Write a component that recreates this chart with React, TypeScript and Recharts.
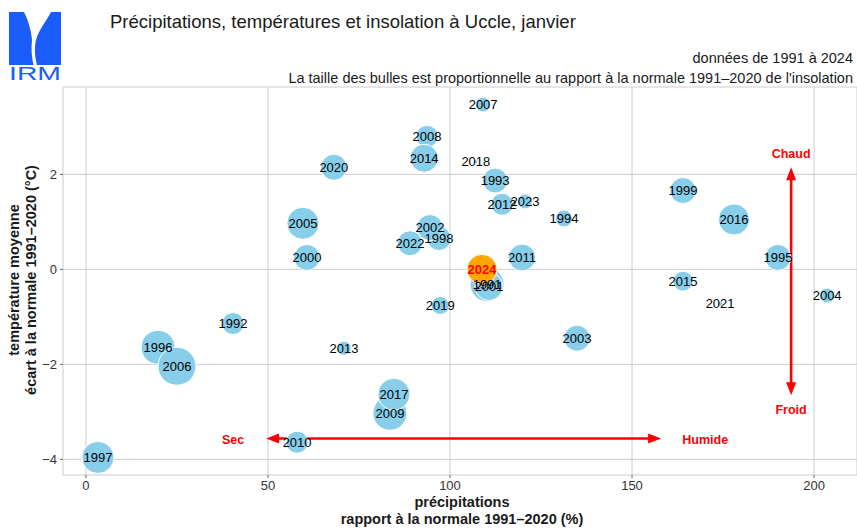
import React from 'react';
import {
  ScatterChart,
  Scatter,
  XAxis,
  YAxis,
  ZAxis,
  CartesianGrid,
  ReferenceLine,
  ReferenceDot,
} from 'recharts';

// ---- data ----
const years = [
  1991, 1992, 1993, 1994, 1995, 1996, 1997, 1998, 1999, 2000,
  2001, 2002, 2003, 2004, 2005, 2006, 2007, 2008, 2009, 2010,
  2011, 2012, 2013, 2014, 2015, 2016, 2017, 2018, 2019, 2020,
  2021, 2022, 2023, 2024,
];
// précipitations, rapport à la normale (%)
const precipitation = [
  110.2, 40.4, 112.4, 131.3, 190.1, 19.8, 3.3, 97.0, 164.0, 60.7,
  110.7, 94.5, 134.9, 203.6, 59.6, 25.0, 109.1, 93.7, 83.5, 58.0,
  119.8, 114.3, 70.9, 92.9, 164.0, 178.0, 84.6, 107.1, 97.3, 68.1,
  174.2, 89.0, 120.6, 108.8,
];
// écart de température à la normale (°C)
const temperatureAnomaly = [
  -0.32, -1.14, 1.87, 1.07, 0.25, -1.64, -3.96, 0.65, 1.66, 0.25,
  -0.36, 0.88, -1.45, -0.55, 0.97, -2.04, 3.47, 2.8, -3.03, -3.64,
  0.25, 1.37, -1.66, 2.34, -0.25, 1.05, -2.63, 2.27, -0.76, 2.15,
  -0.72, 0.55, 1.43, 0.0,
];
// insolation, rapport à la normale (%)
const sunshineRatio = [
  128, 54, 69, 32, 75, 128, 114, 64, 75, 75,
  87, 75, 75, 25, 114, 160, 25, 54, 128, 54,
  80, 54, 22, 87, 44, 107, 114, 2, 36, 75,
  3, 69, 25, 100,
];
const highlightYear = 2024;
const xTicks = [0, 50, 100, 150, 200];
const yTicks = [-4, -2, 0, 2];

const allPoints = years.map((year, i) => ({
  year,
  x: precipitation[i],
  y: temperatureAnomaly[i],
  z: sunshineRatio[i],
}));
const pastPoints = allPoints.filter((p) => p.year !== highlightYear);
const currentPoints = allPoints.filter((p) => p.year === highlightYear);

const FONT = '"Liberation Sans", Arial, Helvetica, sans-serif';
const RED = '#ff0000';

const fmtTick = (v: number) => (v < 0 ? '\u2212' + Math.abs(v) : String(v));

const LabelShape = (p: any) => {
  const isCur = p.payload && p.payload.year === highlightYear;
  return (
    <text
      x={p.cx}
      y={p.cy}
      dy="0.36em"
      textAnchor="middle"
      fontFamily={FONT}
      fontSize={13}
      fontWeight={isCur ? 'bold' : 'normal'}
      fill={isCur ? RED : '#000'}
    >
      {p.payload.year}
    </text>
  );
};

const ArrowShape = (p: any) => {
  const { x1, y1, x2, y2 } = p;
  const dx = x2 - x1;
  const dy = y2 - y1;
  const len = Math.sqrt(dx * dx + dy * dy) || 1;
  const ux = dx / len;
  const uy = dy / len;
  const hl = 13;
  const hw = 5;
  const head = (tx: number, ty: number, dirx: number, diry: number) => {
    const bx = tx - dirx * hl;
    const by = ty - diry * hl;
    const px = -diry * hw;
    const py = dirx * hw;
    return `${tx},${ty} ${bx + px},${by + py} ${bx - px},${by - py}`;
  };
  return (
    <g>
      <line
        x1={x1 + ux * (hl - 2)}
        y1={y1 + uy * (hl - 2)}
        x2={x2 - ux * (hl - 2)}
        y2={y2 - uy * (hl - 2)}
        stroke={RED}
        strokeWidth={2.6}
      />
      <polygon points={head(x2, y2, ux, uy)} fill={RED} />
      <polygon points={head(x1, y1, -ux, -uy)} fill={RED} />
    </g>
  );
};

const makeTextShape = (label: string) => (p: any) => (
  <text
    x={p.cx}
    y={p.cy}
    dy="0.36em"
    textAnchor="middle"
    fontFamily={FONT}
    fontSize={12.5}
    fontWeight="bold"
    fill={RED}
  >
    {label}
  </text>
);

const Logo = () => (
  <g>
    <rect x={9} y={12} width={52} height={53} fill="#1a5dfa" />
    <path
      d="M24,12 L51,12 C46,22 39,29 36,40 C34,49 35,57 37,65 L33.5,65 C31.5,57 31,48 32,40 C31,29 28,20 24,12 Z"
      fill="#ffffff"
    />
    <text
      x={9}
      y={80}
      fontFamily={FONT}
      fontSize={19}
      fill="#1a5dfa"
      textLength={52}
      lengthAdjust="spacingAndGlyphs"
    >
      IRM
    </text>
  </g>
);

export default function App() {
  return (
    <div style={{ position: 'absolute', left: 0, top: 0, width: 857, height: 530, background: '#fff' }}>
      <ScatterChart
        width={857}
        height={530}
        margin={{ top: 87, right: 0, bottom: 0, left: 0 }}
      >
        <CartesianGrid stroke="#cccccc" strokeWidth={1} />
        <XAxis
          type="number"
          dataKey="x"
          domain={[-6.3, 211.8]}
          ticks={xTicks}
          allowDataOverflow
          height={55}
          axisLine={false}
          tickLine={{ stroke: '#666' }}
          tickSize={3}
          tickMargin={3}
          tick={{ fill: '#333', fontSize: 13, fontFamily: FONT }}
          tickFormatter={fmtTick}
        />
        <YAxis
          type="number"
          dataKey="y"
          domain={[-4.33, 3.84]}
          ticks={yTicks}
          allowDataOverflow
          width={63}
          axisLine={false}
          tickLine={{ stroke: '#666' }}
          tickSize={3}
          tickMargin={3}
          tick={{ fill: '#333', fontSize: 13, fontFamily: FONT }}
          tickFormatter={fmtTick}
        />
        <ZAxis type="number" dataKey="z" domain={[0, 200]} range={[0, 1413.7]} />
        <ReferenceLine
          segment={[{ x: 49.5, y: -3.56 }, { x: 158.0, y: -3.56 }]}
          ifOverflow="visible"
          shape={ArrowShape}
        />
        <ReferenceLine
          segment={[{ x: 193.7, y: 2.15 }, { x: 193.7, y: -2.65 }]}
          ifOverflow="visible"
          shape={ArrowShape}
        />
        <ReferenceDot x={40.4} y={-3.58} r={0} ifOverflow="visible" shape={makeTextShape('Sec')} />
        <ReferenceDot x={170.1} y={-3.58} r={0} ifOverflow="visible" shape={makeTextShape('Humide')} />
        <ReferenceDot x={193.7} y={2.44} r={0} ifOverflow="visible" shape={makeTextShape('Chaud')} />
        <ReferenceDot x={193.7} y={-2.95} r={0} ifOverflow="visible" shape={makeTextShape('Froid')} />
        <Scatter
          data={pastPoints}
          fill="#87CEEB"
          stroke="#ffffff"
          strokeWidth={1}
          isAnimationActive={false}
        />
        <Scatter
          data={currentPoints}
          fill="#FFA500"
          stroke="#ffffff"
          strokeWidth={1}
          isAnimationActive={false}
        />
        <Scatter data={allPoints} shape={LabelShape} isAnimationActive={false} />
      </ScatterChart>
      <svg
        width={857}
        height={530}
        style={{ position: 'absolute', left: 0, top: 0, pointerEvents: 'none' }}
      >
        <Logo />
        <text x={110} y={28} fontFamily={FONT} fontSize={18.5} fill="#1a1a1a">
          Précipitations, températures et insolation à Uccle, janvier
        </text>
        <text x={853} y={63} textAnchor="end" fontFamily={FONT} fontSize={14.5} fill="#1a1a1a">
          données de 1991 à 2024
        </text>
        <text x={853} y={83} textAnchor="end" fontFamily={FONT} fontSize={14.5} fill="#1a1a1a">
          La taille des bulles est proportionnelle au rapport à la normale 1991–2020 de l'insolation
        </text>
        <g transform="translate(22,280) rotate(-90)">
          <text x={0} y={-3} textAnchor="middle" fontFamily={FONT} fontSize={14.5} fontWeight="bold" fill="#1a1a1a">
            température moyenne
          </text>
          <text x={0} y={13.5} textAnchor="middle" fontFamily={FONT} fontSize={14.5} fontWeight="bold" fill="#1a1a1a">
            écart à la normale 1991–2020 (°C)
          </text>
        </g>
        <text x={462} y={507} textAnchor="middle" fontFamily={FONT} fontSize={14.5} fontWeight="bold" fill="#1a1a1a">
          précipitations
        </text>
        <text x={462} y={524} textAnchor="middle" fontFamily={FONT} fontSize={14.5} fontWeight="bold" fill="#1a1a1a">
          rapport à la normale 1991–2020 (%)
        </text>
      </svg>
    </div>
  );
}
